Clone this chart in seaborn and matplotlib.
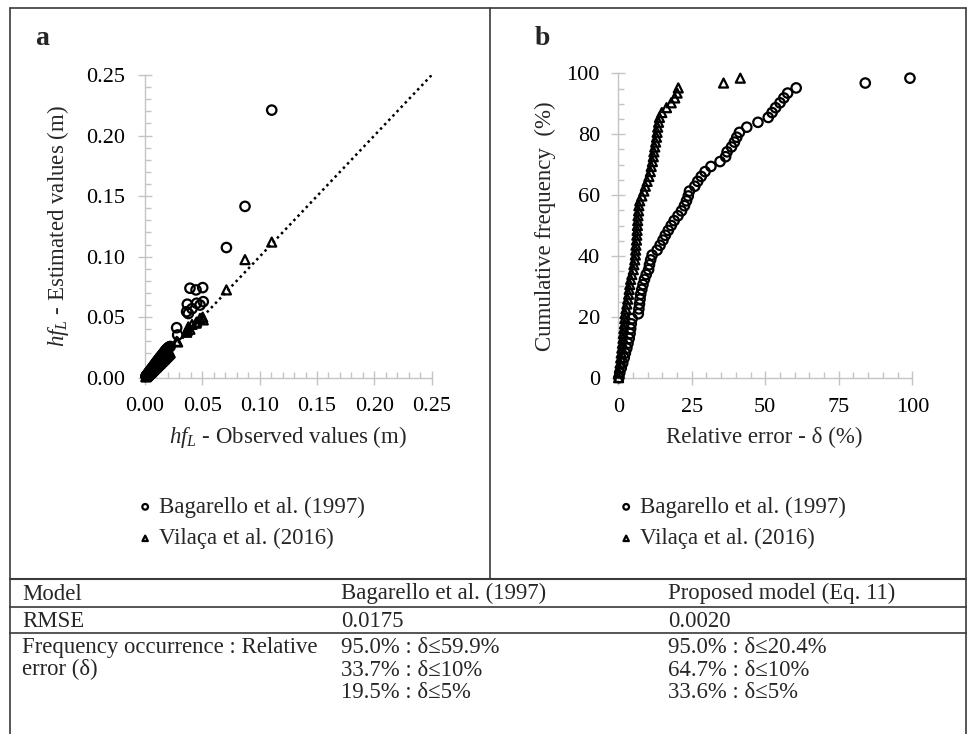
import matplotlib
matplotlib.use('Agg')
import matplotlib.pyplot as plt
import seaborn as sns
from matplotlib.lines import Line2D
from matplotlib.ticker import MultipleLocator, FormatStrFormatter

# ---------------- data ----------------
series_labels = ['Bagarello et al. (1997)', 'Vilaça et al. (2016)']

# Panel a: observed vs estimated head loss (m)
observed = [0.0008, 0.0010, 0.0012, 0.0015, 0.0018, 0.0021, 0.0024, 0.0027, 0.0030, 0.0034,
            0.0038, 0.0041, 0.0045, 0.0049, 0.0052, 0.0056, 0.0060, 0.0064, 0.0068, 0.0072,
            0.0076, 0.0080, 0.0085, 0.0090, 0.0094, 0.0099, 0.0104, 0.0109, 0.0114, 0.0119,
            0.0124, 0.0130, 0.0135, 0.0141, 0.0147, 0.0153, 0.0159, 0.0165, 0.0171, 0.0177,
            0.0183, 0.0190, 0.0197, 0.0204, 0.0212, 0.0220,
            0.0276, 0.0285, 0.0363, 0.0369, 0.0378, 0.0392, 0.0410, 0.0445, 0.0450, 0.0480,
            0.0503, 0.0508, 0.0710, 0.0872, 0.1105]
est_bagarello = [0.0010, 0.0013, 0.0014, 0.0019, 0.0022, 0.0027, 0.0029, 0.0034, 0.0037, 0.0043,
                 0.0046, 0.0053, 0.0055, 0.0062, 0.0066, 0.0070, 0.0075, 0.0082, 0.0084, 0.0092,
                 0.0095, 0.0101, 0.0108, 0.0112, 0.0121, 0.0124, 0.0133, 0.0136, 0.0146, 0.0150,
                 0.0158, 0.0163, 0.0172, 0.0176, 0.0185, 0.0191, 0.0199, 0.0207, 0.0213, 0.0222,
                 0.0228, 0.0236, 0.0241, 0.0249, 0.0253, 0.0258,
                 0.0413, 0.0353, 0.0545, 0.0607, 0.0530, 0.0739, 0.0570, 0.0725, 0.0615, 0.0600,
                 0.0744, 0.0628, 0.1075, 0.1415, 0.2210]
est_vilaca = [0.0007, 0.0009, 0.0011, 0.0014, 0.0016, 0.0019, 0.0022, 0.0025, 0.0027, 0.0031,
              0.0035, 0.0038, 0.0041, 0.0045, 0.0048, 0.0051, 0.0055, 0.0059, 0.0062, 0.0066,
              0.0070, 0.0074, 0.0078, 0.0083, 0.0086, 0.0091, 0.0096, 0.0100, 0.0105, 0.0110,
              0.0114, 0.0120, 0.0124, 0.0130, 0.0136, 0.0141, 0.0147, 0.0152, 0.0158, 0.0164,
              0.0170, 0.0176, 0.0183, 0.0190, 0.0197, 0.0205,
              0.0300, 0.0295, 0.0375, 0.0390, 0.0420, 0.0400, 0.0440, 0.0450, 0.0460, 0.0490,
              0.0500, 0.0477, 0.0725, 0.0975, 0.1120]
line_1to1 = [0.0, 0.25]

# Panel b: cumulative frequency (%) vs relative error (%)
cum_freq = [0.0, 1.6, 3.2, 4.8, 6.5, 8.1, 9.7, 11.3, 12.9, 14.5, 16.1, 17.7, 19.4, 21.0, 22.6,
            24.2, 25.8, 27.4, 29.0, 30.6, 32.3, 33.9, 35.5, 37.1, 38.7, 40.3, 41.9, 43.5, 45.2,
            46.8, 48.4, 50.0, 51.6, 53.2, 54.8, 56.5, 58.1, 59.7, 61.3, 62.9, 64.5, 66.1, 67.7,
            69.4, 71.0, 72.6, 74.2, 75.8, 77.4, 79.0, 80.6, 82.3, 83.9, 85.5, 87.1, 88.7, 90.3,
            91.9, 93.5, 95.2, 96.8, 98.4]
delta_bagarello = [0.2, 0.5, 1.0, 1.5, 2.0, 2.4, 2.9, 3.3, 3.7, 4.0, 4.2, 4.4, 4.7, 6.8, 7.0,
                   7.2, 7.4, 7.6, 8.0, 8.4, 8.9, 9.5, 10.3, 10.6, 11.0, 11.5, 13.2, 14.2, 15.2,
                   16.0, 17.0, 18.0, 19.0, 20.3, 21.5, 22.5, 23.2, 23.8, 24.2, 26.0, 27.0, 28.2,
                   29.5, 31.5, 34.6, 36.5, 37.0, 38.5, 39.5, 40.3, 41.2, 43.7, 47.5, 51.0, 52.3,
                   53.5, 55.0, 56.3, 57.6, 60.5, 84.0, 99.2]
delta_vilaca = [0.1, 0.2, 0.4, 0.6, 0.8, 1.0, 1.2, 1.4, 1.6, 1.7, 1.9, 2.1, 2.2, 2.3, 2.6,
                2.9, 3.2, 3.5, 3.7, 3.9, 4.2, 4.6, 5.1, 5.3, 5.6, 5.8, 5.9, 6.0, 6.2, 6.3,
                6.4, 6.5, 6.6, 6.7, 6.9, 7.0, 7.3, 8.0, 8.7, 9.2, 9.8, 10.4, 10.9, 11.2, 11.6,
                11.9, 12.1, 12.4, 12.7, 13.0, 13.2, 13.4, 13.7, 14.0, 14.8, 16.4, 18.0, 19.2,
                20.0, 20.4, 35.8, 41.5]

# Table
table_header = ['Model', 'Bagarello et al. (1997)', 'Proposed model (Eq. 11)']
table_rmse = ['RMSE', '0.0175', '0.0020']
table_freq_label = ['Frequency occurrence : Relative', 'error (δ)']
table_freq_bagarello = ['95.0% : δ≤59.9%', '33.7% : δ≤10%', '19.5% : δ≤5%']
table_freq_proposed = ['95.0% : δ≤20.4%', '64.7% : δ≤10%', '33.6% : δ≤5%']

# ---------------- style ----------------
sns.set_theme(style='white')
plt.rcParams['font.family'] = ['Liberation Serif', 'DejaVu Serif']
plt.rcParams['mathtext.fontset'] = 'custom'
plt.rcParams['mathtext.rm'] = 'Liberation Serif'
plt.rcParams['mathtext.it'] = 'Liberation Serif:italic'
plt.rcParams['mathtext.bf'] = 'Liberation Serif:bold'

W, H = 968, 734
fig = plt.figure(figsize=(W / 100, H / 100), dpi=100)
fig.patch.set_facecolor('white')


def fx(x):
    return x / W


def fy(y):
    return 1 - y / H


def axes_px(l, t, r, b):
    return fig.add_axes([l / W, 1 - b / H, (r - l) / W, (b - t) / H])


AX_COL = '#C4C4C4'
FS = 16
FS_TXT = 16.4
FS_LAB = 16.5


def style_axes(ax, major, minor, fmt, xpad, ypad):
    for s in ['top', 'right']:
        ax.spines[s].set_visible(False)
    for s in ['left', 'bottom']:
        ax.spines[s].set_color(AX_COL)
        ax.spines[s].set_linewidth(1.0)
    ax.xaxis.set_major_locator(MultipleLocator(major[0]))
    ax.yaxis.set_major_locator(MultipleLocator(major[1]))
    ax.xaxis.set_minor_locator(MultipleLocator(minor[0]))
    ax.yaxis.set_minor_locator(MultipleLocator(minor[1]))
    if fmt:
        ax.xaxis.set_major_formatter(FormatStrFormatter(fmt))
        ax.yaxis.set_major_formatter(FormatStrFormatter(fmt))
    ax.tick_params(which='major', direction='inout', length=9.6, width=1.0,
                   color=AX_COL, labelsize=FS, labelcolor='black')
    ax.tick_params(which='minor', direction='in', length=4.3, width=1.0, color=AX_COL)
    ax.tick_params(axis='x', which='major', pad=xpad, bottom=True)
    ax.tick_params(axis='y', which='major', pad=ypad, left=True)
    ax.tick_params(axis='x', which='minor', bottom=True)
    ax.tick_params(axis='y', which='minor', left=True)
    ax.set_facecolor('white')
    ax.grid(False)


mk = dict(s=46, linewidth=1.6, edgecolor='black', facecolor='none', color='black',
          clip_on=False, zorder=4)
tk = dict(s=42, linewidth=1.6, edgecolor='black', facecolor='none', color='black',
          clip_on=False, zorder=4)

leg_kw = dict(loc='center left', bbox_transform=fig.transFigure, frameon=False,
              fontsize=FS_LAB, handlelength=0.8, handletextpad=0.2, labelspacing=0.45,
              markerscale=0.6, borderpad=0, borderaxespad=0)

# ---------------- panel a ----------------
axA = axes_px(145, 75, 431.7, 377.7)
sns.lineplot(x=line_1to1, y=line_1to1, ax=axA, color='black', linewidth=1.8,
             linestyle=(0, (1, 1.4)), zorder=2)
sns.scatterplot(x=observed, y=est_bagarello, ax=axA, marker='o', label=series_labels[0], **mk)
sns.scatterplot(x=observed, y=est_vilaca, ax=axA, marker='^', label=series_labels[1], **tk)
axA.set_xlim(0, 0.25)
axA.set_ylim(0, 0.25)
style_axes(axA, (0.05, 0.05), (0.01, 0.01), '%.2f', 8.9, 9.6)
axA.set_xlabel(r'$hf_L$ - Observed values (m)', fontsize=FS_LAB, va='baseline')
axA.xaxis.set_label_coords(fx(288), fy(443), transform=fig.transFigure)
axA.set_ylabel(r'$hf_L$ - Estimated values (m)', fontsize=FS_LAB, va='center')
axA.yaxis.set_label_coords(fx(58), fy(226), transform=fig.transFigure)

hA, lA = axA.get_legend_handles_labels()
hA = [h for h, l in zip(hA, lA) if l in series_labels]
axA.legend(hA, series_labels, bbox_to_anchor=(fx(136), fy(523)), **leg_kw)

# ---------------- panel b ----------------
axB = axes_px(618.3, 73.3, 912.3, 377.7)
sns.scatterplot(x=delta_bagarello, y=cum_freq, ax=axB, marker='o', label=series_labels[0], **mk)
sns.scatterplot(x=delta_vilaca, y=cum_freq, ax=axB, marker='^', label=series_labels[1], **tk)
axB.set_xlim(0, 100)
axB.set_ylim(0, 100)
style_axes(axB, (25, 20), (5, 5), None, 10, 8.4)
axB.set_xlabel('Relative error - δ (%)', fontsize=FS_LAB, va='baseline')
axB.xaxis.set_label_coords(fx(764), fy(443), transform=fig.transFigure)
axB.set_ylabel('Cumulative frequency  (%)', fontsize=FS_LAB, va='center')
axB.yaxis.set_label_coords(fx(545), fy(226), transform=fig.transFigure)

hB, lB = axB.get_legend_handles_labels()
hB = [h for h, l in zip(hB, lB) if l in series_labels]
axB.legend(hB, series_labels, bbox_to_anchor=(fx(617), fy(523)), **leg_kw)

# panel letters
fig.text(fx(35), fy(45), 'a', fontsize=20, fontweight='bold', va='baseline', ha='left')
fig.text(fx(535), fy(45), 'b', fontsize=20, fontweight='bold', va='baseline', ha='left')

# ---------------- frame and table lines ----------------
LC = '#3a3a3a'


def hline(y, x0=10, x1=966, lw=1.2):
    fig.add_artist(Line2D([fx(x0), fx(x1)], [fy(y), fy(y)], transform=fig.transFigure,
                          color=LC, linewidth=lw))


def vline(x, y0, y1, lw=1.2):
    fig.add_artist(Line2D([fx(x), fx(x)], [fy(y0), fy(y1)], transform=fig.transFigure,
                          color=LC, linewidth=lw))


hline(8)
vline(10, 8, 734)
vline(966, 8, 734)
vline(490, 8, 579)
hline(579, lw=1.5)
hline(607)
hline(633)

# ---------------- table text ----------------
col_x = [22, 341, 668]
for x, t in zip(col_x, table_header):
    fig.text(fx(x), fy(599.5), t, fontsize=FS_TXT, va='baseline', ha='left')
for x, t in zip(col_x, table_rmse):
    fig.text(fx(x), fy(627), t, fontsize=FS_TXT, va='baseline', ha='left')
row_y = [653, 675.5, 697.5]
for y, t in zip(row_y, table_freq_label):
    fig.text(fx(col_x[0]), fy(y), t, fontsize=FS_TXT, va='baseline', ha='left')
for y, t in zip(row_y, table_freq_bagarello):
    fig.text(fx(col_x[1]), fy(y), t, fontsize=FS_TXT, va='baseline', ha='left')
for y, t in zip(row_y, table_freq_proposed):
    fig.text(fx(col_x[2]), fy(y), t, fontsize=FS_TXT, va='baseline', ha='left')

fig.savefig('out.png', dpi=100, facecolor='white')
